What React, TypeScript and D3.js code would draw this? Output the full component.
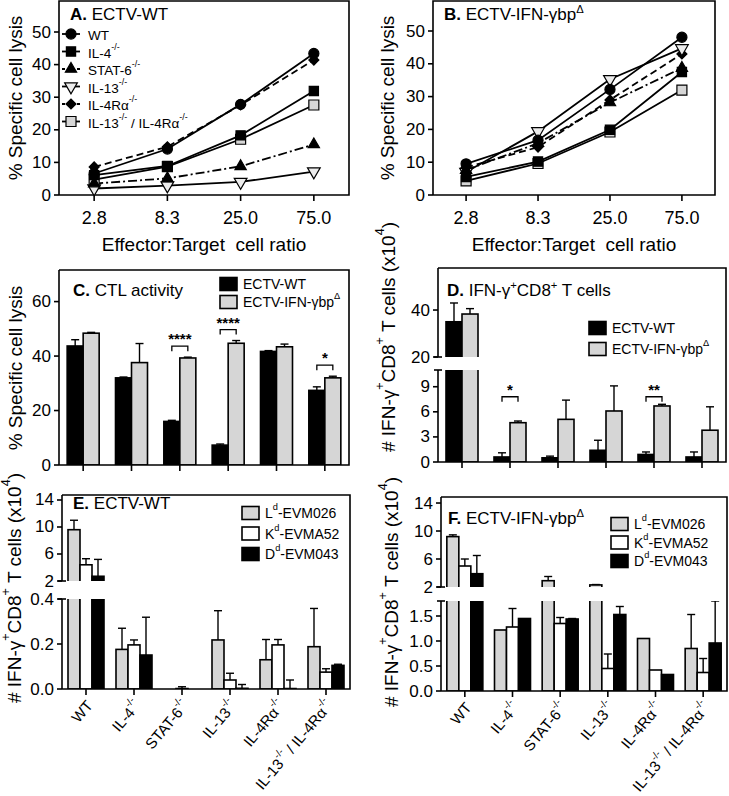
import React from "react";
import * as d3 from "d3";

const FONT = "'Liberation Sans', Arial, Helvetica, sans-serif";
const GRAY = "#d6d6d6";

// ---- panels A / B : specific lysis vs E:T ratio
const ratioLabels = ["2.8", "8.3", "25.0", "75.0"];
const lysisTicks = [0, 10, 20, 30, 40, 50];

const wtLysisA = [6.6, 14.1, 27.8, 43.4];
const il4LysisA = [6.1, 8.9, 18.3, 31.9];
const stat6LysisA = [3.5, 5.1, 8.8, 15.5];
const il13LysisA = [2.0, 2.9, 4.0, 7.2];
const il4raLysisA = [8.6, 14.8, 27.6, 41.4];
const dkoLysisA = [4.7, 8.7, 17.1, 27.6];

const wtLysisB = [9.5, 16.7, 32.2, 48.1];
const il4LysisB = [5.5, 10.2, 19.9, 37.5];
const stat6LysisB = [7.6, 15.8, 28.2, 38.7];
const il13LysisB = [7.0, 19.4, 35.3, 44.7];
const il4raLysisB = [8.4, 14.6, 29.0, 43.0];
const dkoLysisB = [4.3, 9.6, 19.2, 32.0];

// ---- bar panels
const strainLabels = ["WT", "IL-4^{-/-}", "STAT-6^{-/-}", "IL-13^{-/-}", "IL-4Rα^{-/-}", "IL-13^{-/-} / IL-4Rα^{-/-}"];

// C: CTL activity
const ctlWT = [43.7, 32.0, 16.0, 7.3, 41.7, 27.4];
const ctlWTErr = [2.3, 0.3, 0.4, 0.4, 0.3, 1.3];
const ctlIFN = [48.4, 37.6, 39.3, 44.7, 43.4, 32.0];
const ctlIFNErr = [0.3, 7.0, 0.3, 1.0, 1.0, 0.6];
const ctlSig = ["", "", "****", "****", "", "*"];

// D: IFN-g+ CD8+ T cells (x10^4)
const ifnWT = [35.0, 0.6, 0.5, 1.4, 0.9, 0.6];
const ifnWTErr = [8.0, 0.5, 0.2, 1.2, 0.3, 0.6];
const ifnIFN = [38.3, 4.7, 5.1, 6.1, 6.7, 3.8];
const ifnIFNErr = [2.3, 0.2, 2.3, 3.0, 0.2, 2.8];
const ifnSig = ["", "*", "", "", "**", ""];

// E: ECTV-WT epitopes
const eLd = [9.6, 0.176, 0, 0.218, 0.13, 0.188];
const eLdErr = [1.4, 0.094, 0, 0.13, 0.09, 0.17];
const eKd = [4.4, 0.196, 0.002, 0.04, 0.196, 0.075];
const eKdErr = [0.9, 0.022, 0.008, 0.03, 0.024, 0.015];
const eDd = [2.7, 0.151, 0, 0.003, 0.002, 0.105];
const eDdErr = [2.5, 0.168, 0, 0.017, 0.038, 0.005];

// F: ECTV-IFN-gbp epitopes
const fLd = [9.2, 1.22, 2.9, 2.3, 1.05, 0.85];
const fLdErr = [0.25, 0, 0.6, 0.05, 0, 0.68];
const fKd = [5.0, 1.28, 1.35, 0.45, 0.42, 0.37];
const fKdErr = [1.0, 0.37, 0.12, 0.29, 0, 0.28];
const fDd = [3.9, 1.45, 1.44, 1.53, 0.33, 0.96];
const fDdErr = [2.6, 0, 0.01, 0.16, 0, 0.84];

function Rich({ s, size }: { s: string; size: number }) {
  const parts = s.split(/(\^\{[^}]*\})/).filter((p) => p !== "");
  const shift = size * 0.42;
  let up = false;
  return (
    <>
      {parts.map((p, i) => {
        if (p.startsWith("^{")) {
          const el = (
            <tspan key={i} dy={up ? 0 : -shift} fontSize={size * 0.66}>
              {p.slice(2, -1)}
            </tspan>
          );
          up = true;
          return el;
        }
        const dy = up ? shift : 0;
        up = false;
        return (
          <tspan key={i} dy={dy}>
            {p}
          </tspan>
        );
      })}
    </>
  );
}

function Title({ x, y, letter, s }: { x: number; y: number; letter: string; s: string }) {
  return (
    <text x={x} y={y} fontSize={17} style={{ whiteSpace: "pre" }}>
      <tspan fontWeight="bold">{letter}</tspan>
      <tspan> </tspan>
      <Rich s={s} size={17} />
    </text>
  );
}

function YTitle({ x, cy, s }: { x: number; cy: number; s: string }) {
  return (
    <text
      transform={`translate(${x},${cy}) rotate(-90)`}
      textAnchor="middle"
      dominantBaseline="central"
      fontSize={19}
    >
      <Rich s={s} size={19} />
    </text>
  );
}

function marker(kind: string, x: number, y: number, key: string | number) {
  const sym = d3.symbol();
  let d = "";
  let fill = "#000";
  let rot = 0;
  if (kind === "circle") d = sym.type(d3.symbolCircle).size(80)() as string;
  if (kind === "square") d = sym.type(d3.symbolSquare).size(85)() as string;
  if (kind === "graysq") {
    d = sym.type(d3.symbolSquare).size(100)() as string;
    fill = GRAY;
  }
  if (kind === "tri") d = sym.type(d3.symbolTriangle).size(55)() as string;
  if (kind === "itri") {
    d = sym.type(d3.symbolTriangle).size(70)() as string;
    fill = "#ececec";
    rot = 180;
  }
  if (kind === "diamond") {
    d = sym.type(d3.symbolSquare).size(50)() as string;
    rot = 45;
  }
  return (
    <path
      key={key}
      d={d}
      transform={`translate(${x},${y}) rotate(${rot})`}
      fill={fill}
      stroke="#000"
      strokeWidth={1.2}
    />
  );
}

type LineSeries = { name: string; values: number[]; kind: string; dash?: string };

function LinePanel(props: {
  left: number;
  right: number;
  top: number;
  bottom: number;
  y50: number;
  pad: number;
  letter: string;
  title: string;
  yTitleX: number;
  series: LineSeries[];
  legend: boolean;
}) {
  const { left, right, top, bottom, y50, pad, series } = props;
  const y = d3.scaleLinear().domain([0, 50]).range([bottom, y50]);
  const x = d3.scalePoint().domain(ratioLabels).range([left, right]).padding(pad);
  const line = d3
    .line<number>()
    .x((_, i) => x(ratioLabels[i]) as number)
    .y((v) => y(v));
  const order = [...series].reverse();
  return (
    <g>
      <path
        d={`M${left},${bottom}V${top}H${right}V${bottom}H${left}`}
        fill="none"
        stroke="#000"
        strokeWidth={1.6}
      />
      {lysisTicks.map((t) => (
        <g key={t}>
          <line x1={left - 5} x2={left} y1={y(t)} y2={y(t)} stroke="#000" strokeWidth={1.6} />
          <text x={left - 8} y={y(t)} textAnchor="end" dominantBaseline="central" fontSize={17}>
            {t}
          </text>
        </g>
      ))}
      {ratioLabels.map((r) => (
        <g key={r}>
          <line x1={x(r)} x2={x(r)} y1={bottom} y2={bottom + 6} stroke="#000" strokeWidth={1.6} />
          <text x={x(r)} y={bottom + 23} textAnchor="middle" dominantBaseline="central" fontSize={18}>
            {r}
          </text>
        </g>
      ))}
      <text
        x={(left + right) / 2}
        y={bottom + 49}
        textAnchor="middle"
        dominantBaseline="central"
        fontSize={19}
        style={{ whiteSpace: "pre" }}
      >
        {"Effector:Target  cell ratio"}
      </text>
      <YTitle x={props.yTitleX} cy={(top + bottom) / 2} s="% Specific cell lysis" />
      {order.map((s) => (
        <path
          key={s.name}
          d={line(s.values) as string}
          fill="none"
          stroke="#000"
          strokeWidth={1.8}
          strokeDasharray={s.dash}
        />
      ))}
      {order.map((s) =>
        s.values.map((v, i) => marker(s.kind, x(ratioLabels[i]) as number, y(v), s.name + i))
      )}
      <Title x={left + 11} y={top + 19} letter={props.letter} s={props.title} />
      {props.legend &&
        series.map((s, i) => {
          const ly = 34 + i * 17.5;
          return (
            <g key={s.name}>
              <line
                x1={left + 3}
                x2={left + 21}
                y1={ly}
                y2={ly}
                stroke="#000"
                strokeWidth={1.8}
                strokeDasharray={s.dash ? "3,2" : undefined}
              />
              {marker(s.kind, left + 12, ly, "lg" + i)}
              <text x={left + 29} y={ly + 1} dominantBaseline="central" fontSize={13.5} style={{ whiteSpace: "pre" }}>
                <Rich s={s.name} size={13.5} />
              </text>
            </g>
          );
        })}
    </g>
  );
}

type BarSeries = { key: string; values: number[]; errs: number[]; fill: string };
type Segment = { min: number; max: number; y0: number; y1: number; ticks: number[]; fmt?: (v: number) => string };

function BarPanel(props: {
  id: string;
  left: number;
  right: number;
  top: number;
  bottom: number;
  lower: Segment;
  upper?: Segment;
  series: BarSeries[];
  barW: number;
  sig?: string[];
  sigY?: (i: number, yl: d3.ScaleLinear<number, number>) => number;
  rotatedLabels?: boolean;
}) {
  const { id, left, right, top, bottom, lower, upper, series, barW } = props;
  const x = d3.scaleBand().domain(strainLabels).range([left, right]);
  const sub = d3
    .scaleBand()
    .domain(series.map((s) => s.key))
    .range([-(barW * series.length) / 2, (barW * series.length) / 2]);
  const yl = d3.scaleLinear().domain([lower.min, lower.max]).range([lower.y0, lower.y1]);
  const yu = upper ? d3.scaleLinear().domain([upper.min, upper.max]).range([upper.y0, upper.y1]) : null;
  const segs: [Segment, d3.ScaleLinear<number, number>, string][] = [[lower, yl, id + "lo"]];
  if (upper && yu) segs.push([upper, yu, id + "up"]);
  return (
    <g>
      <defs>
        {segs.map(([sg, , cid]) => (
          <clipPath id={cid} key={cid}>
            <rect x={left} y={sg.y1} width={right - left} height={sg.y0 - sg.y1} />
          </clipPath>
        ))}
      </defs>
      {segs.map(([sg, sc, cid]) => (
        <g key={cid} clipPath={`url(#${cid})`}>
          {series.map((s) =>
            s.values.map((v, i) => {
              const cx = (x(strainLabels[i]) as number) + x.bandwidth() / 2;
              const bx = cx + (sub(s.key) as number);
              const top = v >= sg.max ? sg.y1 - 10 : sc(v);
              const base = sg.min > 0 ? sg.y0 + 10 : sc(0);
              const e = v + s.errs[i];
              const showBar = v > sg.min;
              const showErr = s.errs[i] > 0 && e > sg.min && e <= sg.max * 1.2;
              const ex = bx + barW / 2;
              return (
                <g key={s.key + i}>
                  {showBar && (
                    <rect
                      x={bx}
                      y={top}
                      width={barW}
                      height={Math.max(0, base - top)}
                      fill={s.fill}
                      stroke="#000"
                      strokeWidth={1.6}
                    />
                  )}
                  {showErr && (
                    <g stroke="#000" strokeWidth={1.4}>
                      <line x1={ex} x2={ex} y1={Math.min(sc(Math.max(v, sg.min)), sg.y0 + 10)} y2={sc(e)} />
                      <line x1={ex - 4} x2={ex + 4} y1={sc(e)} y2={sc(e)} />
                    </g>
                  )}
                </g>
              );
            })
          )}
        </g>
      ))}
      {/* frame */}
      <path d={`M${left},${top}H${right}V${bottom}H${left}`} fill="none" stroke="#000" strokeWidth={1.6} />
      {segs.map(([sg, sc, cid]) => (
        <g key={"ax" + cid}>
          <line
            x1={left}
            x2={left}
            y1={sg.y0}
            y2={sg === upper ? top : sg.y1}
            stroke="#000"
            strokeWidth={1.6}
          />
          {upper && (
            <line
              x1={left - 4}
              x2={left + 4}
              y1={sg === upper ? sg.y0 : sg.y1}
              y2={sg === upper ? sg.y0 : sg.y1}
              stroke="#000"
              strokeWidth={1.6}
            />
          )}
          {sg.ticks.map((t) => (
            <g key={t}>
              <line x1={left - 5} x2={left} y1={sc(t)} y2={sc(t)} stroke="#000" strokeWidth={1.6} />
              <text x={left - 8} y={sc(t)} textAnchor="end" dominantBaseline="central" fontSize={17}>
                {sg.fmt ? sg.fmt(t) : t}
              </text>
            </g>
          ))}
        </g>
      ))}
      {strainLabels.map((c) => {
        const cx = (x(c) as number) + x.bandwidth() / 2;
        return (
          <g key={c}>
            <line x1={cx} x2={cx} y1={bottom} y2={bottom + 6} stroke="#000" strokeWidth={1.6} />
            {props.rotatedLabels && (
              <text
                transform={`translate(${cx + 3},${bottom + 13}) rotate(-50)`}
                textAnchor="end"
                dominantBaseline="central"
                fontSize={15}
                style={{ whiteSpace: "pre" }}
              >
                <Rich s={c} size={15} />
              </text>
            )}
          </g>
        );
      })}
      {props.sig &&
        props.sigY &&
        props.sig.map((s, i) => {
          if (!s) return null;
          const cx = (x(strainLabels[i]) as number) + x.bandwidth() / 2;
          const x1 = cx + (sub(series[0].key) as number) + barW / 2;
          const x2 = cx + (sub(series[1].key) as number) + barW / 2;
          const by = props.sigY!(i, yl);
          return (
            <g key={"sig" + i}>
              <path d={`M${x1},${by + 5}V${by}H${x2}V${by + 5}`} fill="none" stroke="#000" strokeWidth={1.3} />
              <text x={(x1 + x2) / 2} y={by - 2} textAnchor="middle" fontSize={15} fontWeight="bold">
                {s}
              </text>
            </g>
          );
        })}
    </g>
  );
}

function Legend({ x, y, step, items }: { x: number; y: number; step: number; items: [string, string][] }) {
  return (
    <g>
      {items.map(([fill, label], i) => (
        <g key={label}>
          <rect x={x} y={y + i * step - 6.5} width={17} height={13} fill={fill} stroke="#000" strokeWidth={1.6} />
          <text x={x + 23} y={y + i * step} dominantBaseline="central" fontSize={14}>
            <Rich s={label} size={14} />
          </text>
        </g>
      ))}
    </g>
  );
}

export default function App() {
  const seriesA: LineSeries[] = [
    { name: "WT", values: wtLysisA, kind: "circle" },
    { name: "IL-4^{-/-}", values: il4LysisA, kind: "square" },
    { name: "STAT-6^{-/-}", values: stat6LysisA, kind: "tri", dash: "9,3,2,3" },
    { name: "IL-13^{-/-}", values: il13LysisA, kind: "itri" },
    { name: "IL-4Rα^{-/-}", values: il4raLysisA, kind: "diamond", dash: "7,4" },
    { name: "IL-13^{-/-} / IL-4Rα^{-/-}", values: dkoLysisA, kind: "graysq" },
  ];
  const seriesB: LineSeries[] = [
    { name: "WT", values: wtLysisB, kind: "circle" },
    { name: "IL-4^{-/-}", values: il4LysisB, kind: "square" },
    { name: "STAT-6^{-/-}", values: stat6LysisB, kind: "tri", dash: "9,3,2,3" },
    { name: "IL-13^{-/-}", values: il13LysisB, kind: "itri" },
    { name: "IL-4Rα^{-/-}", values: il4raLysisB, kind: "diamond", dash: "7,4" },
    { name: "IL-13^{-/-} / IL-4Rα^{-/-}", values: dkoLysisB, kind: "graysq" },
  ];
  const pairC: BarSeries[] = [
    { key: "wt", values: ctlWT, errs: ctlWTErr, fill: "#000" },
    { key: "ifn", values: ctlIFN, errs: ctlIFNErr, fill: GRAY },
  ];
  const pairD: BarSeries[] = [
    { key: "wt", values: ifnWT, errs: ifnWTErr, fill: "#000" },
    { key: "ifn", values: ifnIFN, errs: ifnIFNErr, fill: GRAY },
  ];
  const trioE: BarSeries[] = [
    { key: "L", values: eLd, errs: eLdErr, fill: GRAY },
    { key: "K", values: eKd, errs: eKdErr, fill: "#fff" },
    { key: "D", values: eDd, errs: eDdErr, fill: "#000" },
  ];
  const trioF: BarSeries[] = [
    { key: "L", values: fLd, errs: fLdErr, fill: GRAY },
    { key: "K", values: fKd, errs: fKdErr, fill: "#fff" },
    { key: "D", values: fDd, errs: fDdErr, fill: "#000" },
  ];
  const pairLegend: [string, string][] = [
    ["#000", "ECTV-WT"],
    [GRAY, "ECTV-IFN-γbp^{Δ}"],
  ];
  const trioLegend: [string, string][] = [
    [GRAY, "L^{d}-EVM026"],
    ["#fff", "K^{d}-EVMA52"],
    ["#000", "D^{d}-EVM043"],
  ];
  const f1 = (v: number) => v.toFixed(1);
  const cellTitle = "# IFN-γ^{+}CD8^{+} T cells (x10^{4})";

  return (
    <svg
      width={729}
      height={796}
      style={{ position: "absolute", left: 0, top: 0, background: "#fff" }}
      fontFamily={FONT}
    >
      <LinePanel
        left={59}
        right={349}
        top={1}
        bottom={195}
        y50={32}
        pad={0.48}
        letter="A."
        title="ECTV-WT"
        yTitleX={15}
        series={seriesA}
        legend
      />
      <LinePanel
        left={433}
        right={715}
        top={1}
        bottom={195}
        y50={31}
        pad={0.46}
        letter="B."
        title="ECTV-IFN-γbp^{Δ}"
        yTitleX={387}
        series={seriesB}
        legend={false}
      />

      {/* C */}
      <BarPanel
        id="c"
        left={59}
        right={349}
        top={270}
        bottom={465}
        lower={{ min: 0, max: 71.6, y0: 465, y1: 270, ticks: [0, 20, 40, 60] }}
        series={pairC}
        barW={16}
        sig={ctlSig}
        sigY={(i, yl) => yl(Math.max(ctlWT[i] + ctlWTErr[i], ctlIFN[i] + ctlIFNErr[i])) - 11}
      />
      <Title x={73} y={296} letter="C." s="CTL activity" />
      <Legend x={220} y={284} step={18} items={pairLegend} />
      <YTitle x={15} cy={368} s="% Specific cell lysis" />

      {/* D */}
      <BarPanel
        id="d"
        left={438}
        right={726}
        top={268}
        bottom={462}
        lower={{ min: 0, max: 11, y0: 462, y1: 370, ticks: [0, 3, 6, 9] }}
        upper={{ min: 20, max: 57.9, y0: 357, y1: 268, ticks: [20, 40] }}
        series={pairD}
        barW={16}
        sig={ifnSig}
        sigY={(_, yl) => yl(7.8)}
      />
      <Title x={447} y={296} letter="D." s="IFN-γ^{+}CD8^{+} T cells" />
      <Legend x={589} y={328} step={21} items={pairLegend} />
      <YTitle x={388} cy={337} s={cellTitle} />

      {/* E */}
      <BarPanel
        id="e"
        left={62}
        right={350}
        top={495}
        bottom={689}
        lower={{ min: 0, max: 0.4, y0: 689, y1: 599, ticks: [0, 0.2, 0.4], fmt: f1 }}
        upper={{ min: 2, max: 14.74, y0: 581, y1: 495, ticks: [2, 6, 10, 14] }}
        series={trioE}
        barW={12}
        rotatedLabels
      />
      <Title x={73} y={509} letter="E." s="ECTV-WT" />
      <Legend x={242} y={513} step={20.5} items={trioLegend} />
      <YTitle x={14} cy={588} s={cellTitle} />

      {/* F */}
      <BarPanel
        id="f"
        left={441}
        right={727}
        top={497}
        bottom={691}
        lower={{ min: 0, max: 1.8, y0: 691, y1: 601, ticks: [0, 0.5, 1, 1.5], fmt: f1 }}
        upper={{ min: 2, max: 14.86, y0: 587, y1: 497, ticks: [2, 6, 10, 14] }}
        series={trioF}
        barW={12}
        rotatedLabels
      />
      <Title x={448} y={524} letter="F." s="ECTV-IFN-γbp^{Δ}" />
      <Legend x={611} y={524} step={18.5} items={trioLegend} />
      <YTitle x={391} cy={592} s={cellTitle} />
    </svg>
  );
}
